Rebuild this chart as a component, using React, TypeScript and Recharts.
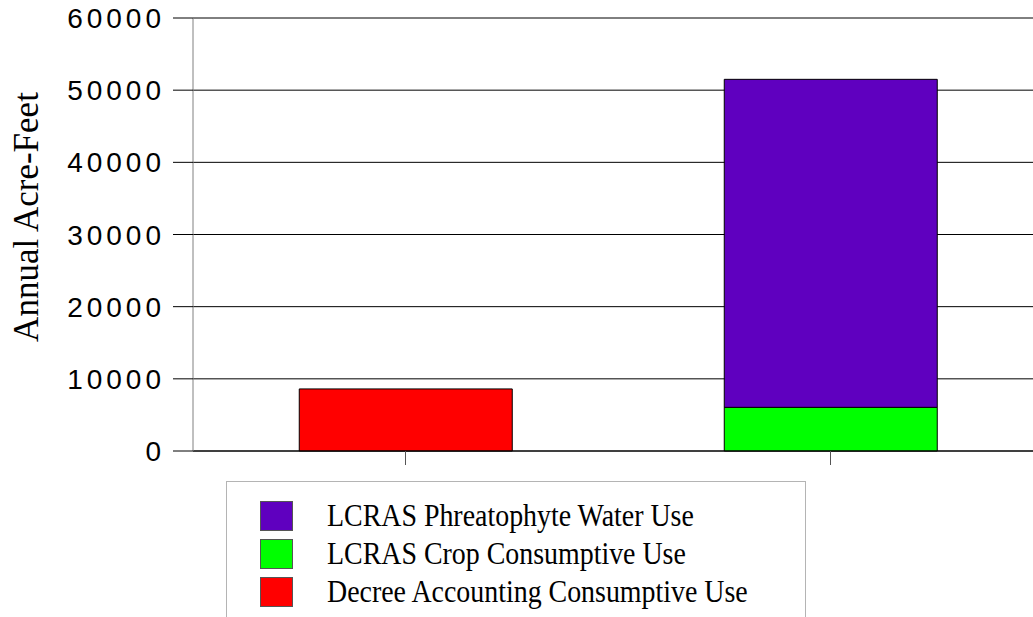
import React from 'react';
import { BarChart, Bar, XAxis, YAxis, CartesianGrid, Legend } from 'recharts';

const categories = ['Decree Accounting', 'LCRAS'];
const decreeUse = [8600, null];
const cropUse = [null, 6050];
const phreatophyteUse = [null, 45450];
const yTicks = [0, 10000, 20000, 30000, 40000, 50000, 60000];

const data = categories.map((name, i) => ({
	name,
	decree: decreeUse[i],
	crop: cropUse[i],
	phreatophyte: phreatophyteUse[i],
}));

// legend order is top of stack first
const legendItems = [
	{ label: 'LCRAS Phreatophyte Water Use', color: '#5f00bf' },
	{ label: 'LCRAS Crop Consumptive Use', color: '#00ff00' },
	{ label: 'Decree Accounting Consumptive Use', color: '#ff0000' },
];

const YTick = (props: any) => {
	const { x, y, payload } = props;
	return (
		<text
			x={x}
			y={y}
			dy={10}
			textAnchor='end'
			fontFamily='"Liberation Sans", Arial, sans-serif'
			fontSize={28}
			letterSpacing={4}
			fill='#000'
		>
			{payload.value}
		</text>
	);
};

// x axis has tick marks but no labels
const NoTick = () => <g />;

const YLabel = () => (
	<text
		x={38}
		y={217}
		transform='rotate(-90, 38, 217)'
		textAnchor='middle'
		fontFamily='"Liberation Serif", "Times New Roman", serif'
		fontSize={35}
		fill='#000'
	>
		Annual Acre-Feet
	</text>
);

const renderLegend = () => (
	<div
		style={{
			width: 580,
			height: 150,
			border: '1px solid #b4b4b4',
			boxSizing: 'border-box',
			paddingTop: 15,
			paddingLeft: 33,
			background: '#fff',
		}}
	>
		{legendItems.map(item => (
			<div
				key={item.label}
				style={{ display: 'flex', alignItems: 'center', height: 38 }}
			>
				<div
					style={{
						width: 33,
						height: 30,
						flexShrink: 0,
						background: item.color,
						border: '1px solid #555',
						boxSizing: 'border-box',
					}}
				/>
				<span
					style={{
						marginLeft: 34,
						display: 'inline-block',
						transform: 'scaleX(0.9)',
						transformOrigin: 'left center',
						fontFamily: '"Liberation Serif", "Times New Roman", serif',
						fontSize: 31,
						color: '#000',
						whiteSpace: 'nowrap',
					}}
				>
					{item.label}
				</span>
			</div>
		))}
	</div>
);

export default function App() {
	return (
		<div
			style={{
				position: 'absolute',
				left: 0,
				top: 0,
				width: 1033,
				height: 617,
				overflow: 'hidden',
				background: '#fff',
			}}
		>
			<BarChart
				width={1043}
				height={617}
				data={data}
				margin={{ top: 18, right: 0, bottom: 136, left: 0 }}
				barCategoryGap='25%'
			>
				<CartesianGrid vertical={false} stroke='#000' />
				<XAxis
					dataKey='name'
					tick={<NoTick />}
					tickSize={14}
					tickLine={{ stroke: '#555' }}
					axisLine={{ stroke: '#000' }}
					height={30}
				/>
				<YAxis
					width={193}
					domain={[0, 60000]}
					ticks={yTicks}
					interval={0}
					tickSize={20}
					tickMargin={8}
					tickLine={{ stroke: '#000' }}
					axisLine={{ stroke: '#808080' }}
					tick={<YTick />}
					label={<YLabel />}
				/>
				<Legend
					layout='vertical'
					align='center'
					verticalAlign='middle'
					content={renderLegend}
					wrapperStyle={{ left: 226, top: 481, width: 580 }}
				/>
				<Bar dataKey='decree' stackId='s' fill='#ff0000' stroke='#000' isAnimationActive={false} />
				<Bar dataKey='crop' stackId='s' fill='#00ff00' stroke='#000' isAnimationActive={false} />
				<Bar dataKey='phreatophyte' stackId='s' fill='#5f00bf' stroke='#000' isAnimationActive={false} />
			</BarChart>
		</div>
	);
}
